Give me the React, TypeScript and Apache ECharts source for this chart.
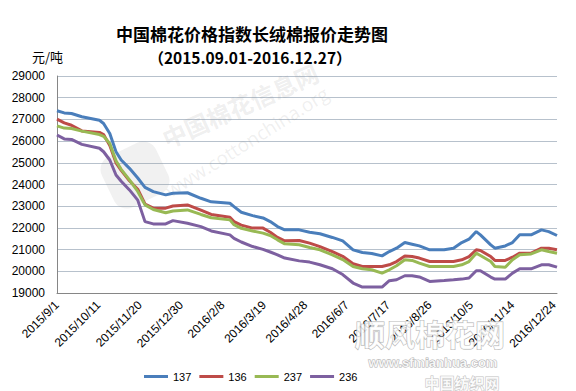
import React, { useEffect, useRef } from "react";
import * as echarts from "echarts";

const dates = [
  "2015/9/1", "2015/9/8", "2015/9/15", "2015/9/25", "2015/10/12", "2015/10/16", "2015/10/22", "2015/10/28",
  "2015/11/2", "2015/11/10", "2015/11/18", "2015/11/25", "2015/12/3", "2015/12/15", "2015/12/22", "2016/1/5",
  "2016/1/18", "2016/1/28", "2016/2/15", "2016/2/19", "2016/2/26", "2016/3/8", "2016/3/18", "2016/3/25",
  "2016/4/1", "2016/4/8", "2016/4/22", "2016/5/2", "2016/5/12", "2016/5/24", "2016/6/3", "2016/6/13",
  "2016/6/22", "2016/7/1", "2016/7/11", "2016/7/18", "2016/7/25", "2016/8/2", "2016/8/9", "2016/8/16",
  "2016/8/26", "2016/9/9", "2016/9/18", "2016/9/26", "2016/10/3", "2016/10/10", "2016/10/14", "2016/10/24",
  "2016/10/28", "2016/11/7", "2016/11/14", "2016/11/21", "2016/12/2", "2016/12/12", "2016/12/19", "2016/12/27",
];

const s137 = [
  27400, 27300, 27270, 27120, 26960, 26810, 26350, 25510, 25130, 24745, 24300, 23870, 23670, 23520, 23600, 23620,
  23365, 23200, 23135, 22980, 22720, 22565, 22460, 22290, 22060, 21910, 21910, 21800, 21730, 21560, 21400, 20990,
  20865, 20820, 20710, 20910, 21065, 21325, 21250, 21170, 20990, 20990, 21065, 21325, 21480, 21830, 21680, 21220,
  21065, 21170, 21325, 21680, 21680, 21910, 21830, 21650,
];
const s136 = [
  27010, 26840, 26730, 26470, 26400, 26300, 25800, 25000, 24650, 24170, 23780, 23100, 22910, 22910, 23010, 23060,
  22820, 22620, 22490, 22290, 22130, 21990, 21990, 21800, 21560, 21405, 21420, 21300, 21140, 20910, 20690, 20345,
  20220, 20220, 20220, 20300, 20450, 20710, 20680, 20610, 20450, 20450, 20450, 20530, 20680, 20990, 20960, 20680,
  20500, 20500, 20650, 20835, 20835, 21065, 21065, 20990,
];
const s237 = [
  26700, 26600, 26580, 26460, 26300, 26220, 25890, 25090, 24700, 24210, 23680, 23060, 22850, 22700, 22780, 22830,
  22620, 22470, 22370, 22150, 21980, 21860, 21760, 21650, 21450, 21265, 21220, 21095, 20990, 20760, 20540, 20220,
  20115, 20070, 19915, 20070, 20255, 20530, 20500, 20380, 20220, 20220, 20220, 20300, 20450, 20835, 20730, 20450,
  20220, 20190, 20530, 20760, 20800, 20990, 20910, 20835,
];
const s236 = [
  26280, 26100, 26075, 25850, 25670, 25510, 25130, 24440, 24150, 23750, 23280, 22290, 22185, 22185, 22335, 22215,
  22060, 21860, 21680, 21520, 21350, 21140, 21010, 20890, 20760, 20610, 20480, 20425, 20300, 20120, 19850, 19460,
  19275, 19275, 19275, 19565, 19610, 19795, 19795, 19740, 19535, 19580, 19610, 19640, 19690, 20025, 20025, 19735,
  19640, 19640, 19915, 20115, 20115, 20300, 20300, 20190,
];

const seriesNames = ["137", "136", "237", "236"];
const seriesValues = [s137, s136, s237, s236];
const seriesColors = ["#4A7EBB", "#BE4B48", "#98B954", "#7D60A0"];

const titleText = "中国棉花价格指数长绒棉报价走势图";
const subtitleText = "（2015.09.01-2016.12.27）";
const unitText = "元/吨";

const START = Date.UTC(2015, 8, 1);
const DAY = 86400000;
const toDay = (s: string) => {
  const [y, m, d] = s.split("/").map(Number);
  return Math.round((Date.UTC(y, m - 1, d) - START) / DAY);
};
const fmtDay = (v: number) => {
  const dt = new Date(START + v * DAY);
  return `${dt.getUTCFullYear()}/${dt.getUTCMonth() + 1}/${dt.getUTCDate()}`;
};

export default function App() {
  const ref = useRef<HTMLDivElement>(null);
  useEffect(() => {
    if (!ref.current) return;
    const chart = echarts.init(ref.current, null, { renderer: "svg" });
    const font = "'Liberation Sans', 'Noto Sans CJK SC', sans-serif";
    const cjk = "'Noto Sans CJK SC', sans-serif";
    chart.setOption({
      animation: false,
      backgroundColor: "#ffffff",
      textStyle: { fontFamily: font },
      grid: { left: 57, right: 19, top: 76, bottom: 98, containLabel: false },
      legend: {
        data: seriesNames,
        left: 139,
        top: 366,
        icon: "rect",
        itemWidth: 24,
        itemHeight: 3,
        itemGap: 8,
        textStyle: { fontSize: 11, color: "#000", fontFamily: font },
      },
      xAxis: {
        type: "value",
        min: 0,
        max: toDay(dates[dates.length - 1]),
        interval: 40,
        axisLine: { show: true, lineStyle: { color: "#868686", width: 1 } },
        axisTick: { show: false },
        splitLine: { show: false },
        axisLabel: {
          rotate: 45,
          formatter: (v: number) => fmtDay(v),
          showMaxLabel: false,
          fontSize: 12,
          color: "#000",
          margin: 10,
        },
      },
      yAxis: {
        type: "value",
        min: 19000,
        max: 29000,
        interval: 1000,
        axisLine: { show: true, lineStyle: { color: "#868686", width: 1 } },
        axisTick: { show: false },
        splitLine: { show: true, lineStyle: { color: "#B7C1CC", width: 1 } },
        axisLabel: { fontSize: 12, color: "#000", margin: 12, formatter: (v: number) => String(v) },
      },
      graphic: [
        {
          type: "text",
          x: 252,
          y: 33,
          style: { text: titleText, font: `bold 17px ${cjk}`, fill: "#000", textAlign: "center", textVerticalAlign: "middle" },
        },
        {
          type: "text",
          x: 250,
          y: 57,
          style: { text: subtitleText, font: `bold 15.5px ${cjk}`, fill: "#000", textAlign: "center", textVerticalAlign: "middle" },
        },
        {
          type: "text",
          x: 32,
          y: 56,
          style: { text: unitText, font: `13px ${cjk}`, fill: "#000", textAlign: "left", textVerticalAlign: "middle" },
        },
        {
          type: "rect",
          x: 135,
          y: 175,
          rotation: 0.45,
          z: 1,
          shape: { x: -30, y: -28, width: 60, height: 56, r: 14 },
          style: { fill: "rgba(150,150,150,0.13)" },
        },
        {
          type: "text",
          x: 240,
          y: 105,
          rotation: 0.42,
          z: 1,
          style: { text: "中国棉花信息网", font: `bold 24px ${cjk}`, fill: "rgba(140,140,140,0.15)", textAlign: "center", textVerticalAlign: "middle" },
        },
        {
          type: "text",
          x: 247,
          y: 142,
          rotation: 0.56,
          z: 1,
          style: { text: "www.cottonchina.org", font: `19px 'Open Sans', sans-serif`, fill: "rgba(140,140,140,0.14)", textAlign: "center", textVerticalAlign: "middle" },
        },
        {
          type: "text",
          x: 430,
          y: 333,
          z: 100,
          style: { text: "顺风棉花网", font: `bold 30px ${cjk}`, fill: "rgba(255,255,255,0.85)", stroke: "#b0b0b0", lineWidth: 1, textAlign: "center", textVerticalAlign: "middle" },
        },
        {
          type: "text",
          x: 433,
          y: 362,
          z: 100,
          style: { text: "www.sfmianhua.com", font: `bold 13px 'Liberation Sans', sans-serif`, fill: "rgba(255,255,255,0.85)", stroke: "#b0b0b0", lineWidth: 1, textAlign: "center", textVerticalAlign: "middle" },
        },
        {
          type: "text",
          x: 462,
          y: 382,
          z: 100,
          style: { text: "中国纺织网", font: `bold 15px ${cjk}`, fill: "rgba(255,255,255,0.85)", stroke: "#c0c0c0", lineWidth: 1, textAlign: "center", textVerticalAlign: "middle" },
        },
      ],
      series: seriesNames.map((name, i) => ({
        name,
        type: "line",
        data: dates.map((d, j) => [toDay(d), seriesValues[i][j]]),
        showSymbol: false,
        symbol: "none",
        lineStyle: { color: seriesColors[i], width: 3 },
        itemStyle: { color: seriesColors[i] },
        z: 2,
      })),
    });
    return () => chart.dispose();
  }, []);
  return <div ref={ref} style={{ position: "fixed", left: 0, top: 0, width: 576, height: 391 }} />;
}
